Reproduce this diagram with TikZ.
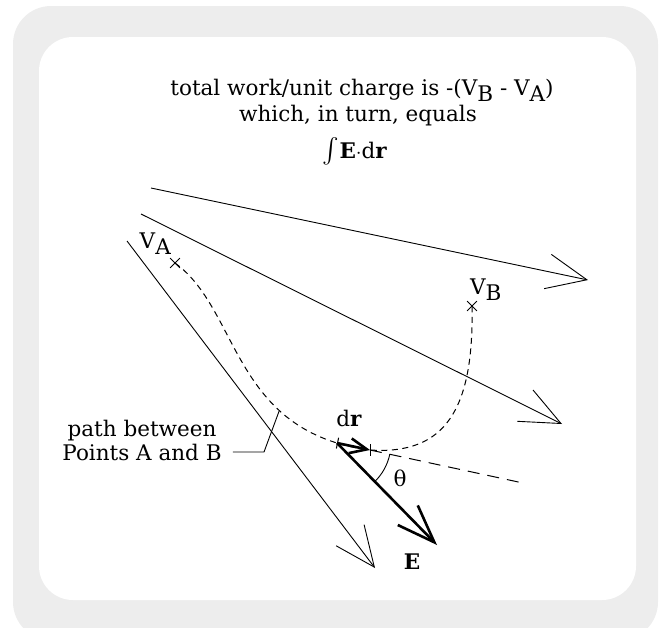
\documentclass[tikz,border=0pt]{standalone}
\usepackage{amsmath}
\usepackage{fontspec}
\setmainfont{DejaVu Serif}
\usepackage{tikz}
\usetikzlibrary{positioning, arrows.meta, shapes.misc}

\newcommand{\lowidx}[1]{\raisebox{-0.6ex}[0.7em][0pt]{#1}}

\begin{document}
\begin{tikzpicture}[x=1pt, y=-1pt, font=\fontsize{21.5}{24}\selectfont,
    fieldline/.style={line width=0.9pt, -{Straight Barb[length=40pt, width=35pt]}},
    pathline/.style={line width=1pt, dash pattern=on 6pt off 4.5pt},
    tangentline/.style={line width=1pt, dash pattern=on 12pt off 8pt},
    ptmark/.style={cross out, draw, line width=0.8pt, minimum size=9pt, inner sep=0pt},
    evec/.style={line width=2.6pt, -{Straight Barb[length=38pt, width=28pt]}},
    drvec/.style={line width=2.6pt, {Bar[width=11pt, line width=1pt]}-{Straight Barb[length=17pt, width=15pt]}}]
  % cornice grigia
  \useasboundingbox (0,0) rectangle (659,627);
  \fill[black!7, rounded corners=38pt] (13,6) rectangle (658,640);
  \fill[white, rounded corners=34pt] (39,37) rectangle (636,600);
  % testo in alto
  \node[anchor=base, inner sep=0pt] (title1) at (362,95) {total work/unit charge is -(V\lowidx{B} - V\lowidx{A})};
  \node[anchor=base, inner sep=0pt] (title2) at (358,121) {which, in turn, equals};
  \node[anchor=base, inner sep=0pt] (title3) at (355,158)
    {\smash{\fontsize{26}{26}\selectfont$\int$}\textbf{E}$\cdot$d\textbf{r}};
  % linee di campo
  \foreach \xa/\ya/\xb/\yb in {151/188/588/280, 141/214/562/424, 127/241/375/568}{
    \draw[fieldline] (\xa,\ya) -- (\xb,\yb);
  }
  % punti A e B
  \node[ptmark] (va) at (175,263) {};
  \node[ptmark] (vb) at (472,306) {};
  \node[anchor=base east, inner sep=0pt] (lva) at (171,248) {V\lowidx{A}};
  \node[anchor=base west, inner sep=0pt] (lvb) at (470,294) {V\lowidx{B}};
  % percorso tratteggiato
  \coordinate (p) at (337,443);
  \coordinate (q) at (370,450);
  \coordinate (tend) at (523,483);
  \coordinate (etip) at (437,545);
  \draw[pathline] (va.center) .. controls (240,310) and (232,432) .. (q) coordinate[pos=0.7] (ppt)
    .. controls (445,455) and (474,410) .. (vb.center);
  \draw[tangentline] (q) -- (tend);
  % vettori dr ed E
  \draw[drvec] (p) -- (q);
  \draw[line width=1pt] ([yshift=6pt]q) -- ([yshift=-6pt]q);
  \draw[evec] (p) -- (etip);
  \draw[line width=0.9pt] ([shift={(46:54)}]p) arc[start angle=46, end angle=12, radius=54];
  \node (ldr) at (349,418) {d\textbf{r}};
  \node (lth) at (400,478) {θ};
  \node (le) at (412,562) {\textbf{E}};
  % etichetta del percorso
  \node[align=center, inner sep=0pt] (lpath) at (142,440) {path between\\Points A and B};
  \coordinate (kink) at (264,452);
  \draw[line width=0.9pt] ([xshift=11pt]lpath.east |- kink) -- (kink) -- (ppt);
\end{tikzpicture}
\end{document}
